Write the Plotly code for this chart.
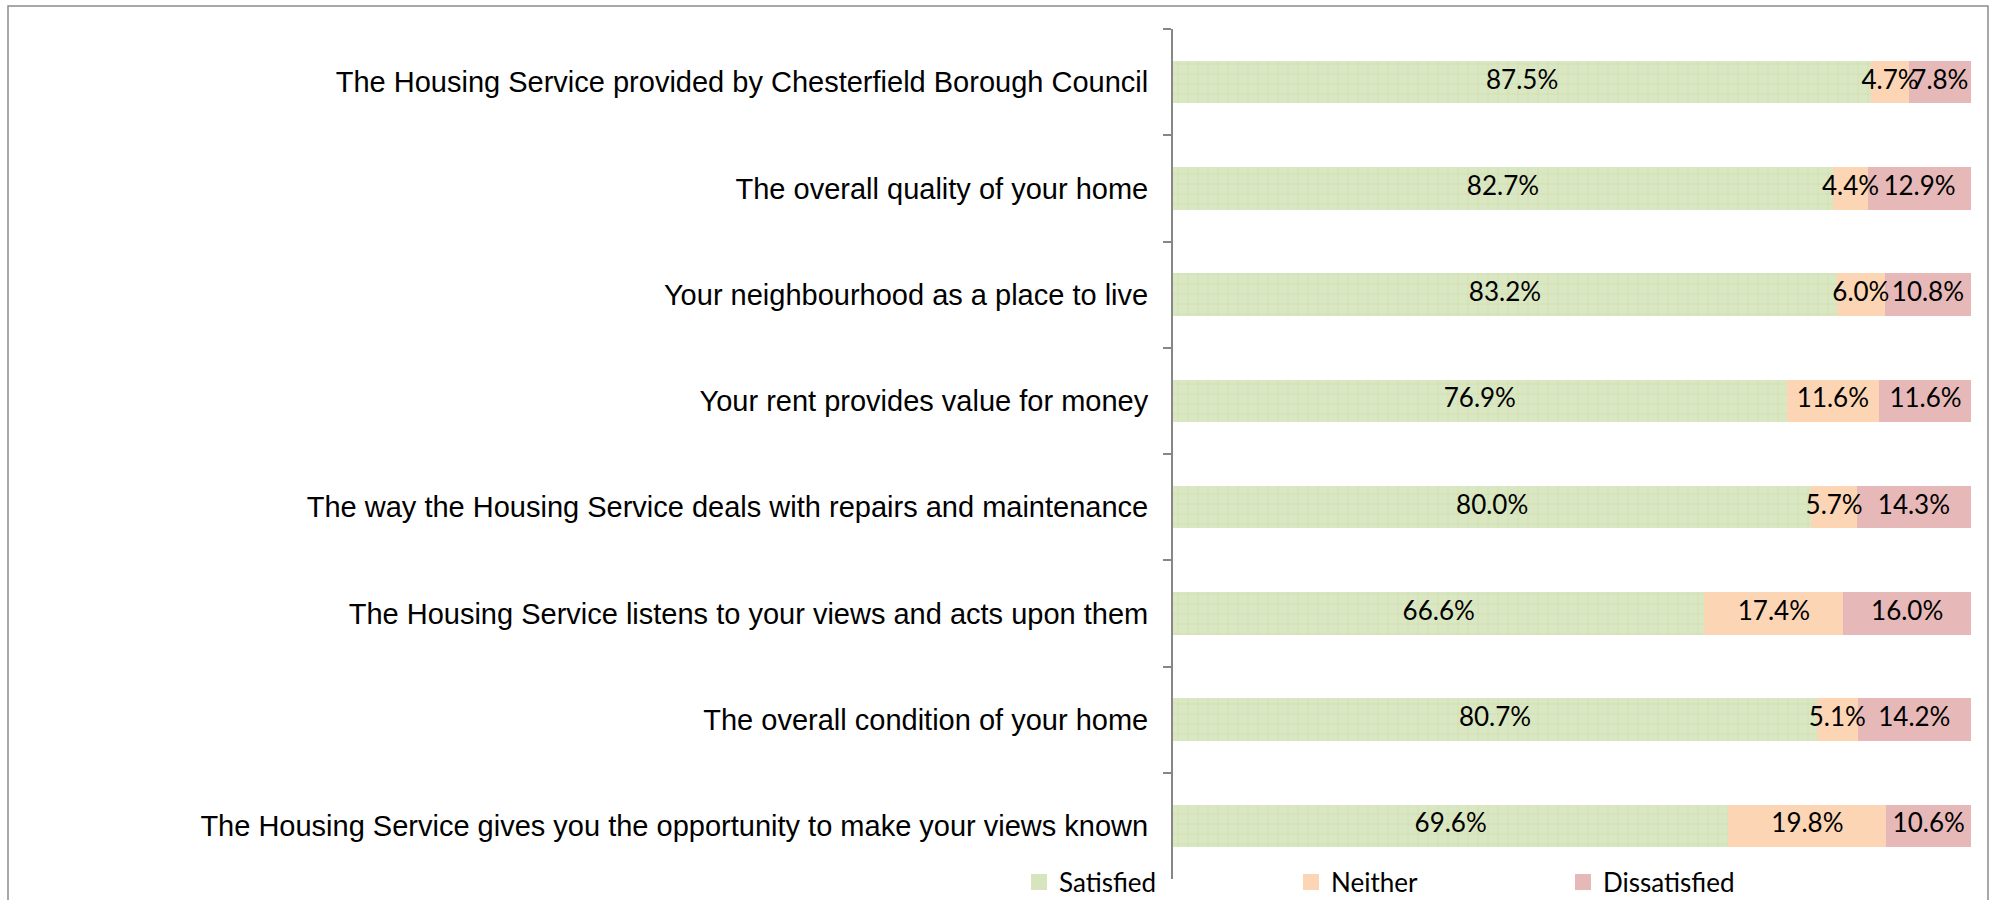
import plotly.graph_objects as go

categories = [
    "The Housing Service provided by Chesterfield Borough Council",
    "The overall quality of your home",
    "Your neighbourhood as a place to live",
    "Your rent provides value for money",
    "The way the Housing Service deals with repairs and maintenance",
    "The Housing Service listens to your views and acts upon them",
    "The overall condition of your home",
    "The Housing Service gives you the opportunity to make your views known",
]
satisfied = [87.5, 82.7, 83.2, 76.9, 80.0, 66.6, 80.7, 69.6]
neither = [4.7, 4.4, 6.0, 11.6, 5.7, 17.4, 5.1, 19.8]
dissatisfied = [7.8, 12.9, 10.8, 11.6, 14.3, 16.0, 14.2, 10.6]
series_names = ["Satisfied", "Neither", "Dissatisfied"]
series_colors = ["#d7e4bd", "#fcd5b5", "#e6b9b8"]

W, H = 1997, 900
L, R, T, B = 1173, 26, 29, 21

label_font = dict(family="Lato, 'Open Sans', sans-serif", size=26, color="black")

fig = go.Figure()
values = [satisfied, neither, dissatisfied]
for i, (name, vals, col) in enumerate(zip(series_names, values, series_colors)):
    marker = dict(color=col, line=dict(width=0))
    if i == 0:
        marker["pattern"] = dict(shape="+", fgcolor="#bfd396", bgcolor="#dae7c3", size=10, solidity=0.14)
    fig.add_trace(go.Bar(
        y=categories, x=vals, name=name, orientation="h", marker=marker,
        showlegend=False, legendgroup=name, hoverinfo="x+y+name",
    ))

# data labels drawn on top of all bars, centred in each stacked segment
for k, vals in enumerate(values):
    base = [sum(v[j] for v in values[:k]) for j in range(len(categories))]
    mids = [b + v / 2 for b, v in zip(base, vals)]
    fig.add_trace(go.Scatter(
        x=mids, y=categories, mode="text",
        text=[f"{v:.1f}%" for v in vals], textposition="middle center",
        textfont=label_font, showlegend=False, hoverinfo="skip", cliponaxis=False,
    ))

# legend entries (square swatches like the original)
for name, col in zip(series_names, series_colors):
    fig.add_trace(go.Scatter(
        x=[None], y=[None], mode="markers", name=name, legendgroup=name,
        marker=dict(symbol="square", size=17, color=col, line=dict(width=0)),
        showlegend=True,
    ))

pw = W - L - R
ph = H - T - B

fig.update_layout(
    width=W, height=H,
    margin=dict(l=L, r=R, t=T, b=B, pad=0, autoexpand=False),
    barmode="stack", bargap=0.6,
    paper_bgcolor="white", plot_bgcolor="white",
    showlegend=True,
    legend=dict(
        orientation="h", x=(1019 - L) / pw, xanchor="left",
        y=(T + ph - 882) / ph, yanchor="middle",
        entrywidth=227, entrywidthmode="pixels",
        font=dict(family="Lato, 'Open Sans', sans-serif", size=26, color="black"),
        bgcolor="rgba(0,0,0,0)", traceorder="normal",
        itemsizing="trace", itemwidth=30,
    ),
    xaxis=dict(range=[0, 100], visible=False, fixedrange=True),
    yaxis=dict(
        autorange="reversed", type="category",
        categoryorder="array", categoryarray=categories,
        showline=True, linecolor="#878787", linewidth=2,
        ticks="outside", tickson="boundaries", ticklen=8, tickcolor="#878787", tickwidth=2,
        tickfont=dict(family="'Liberation Sans', Arial, sans-serif", size=29, color="black"),
        ticklabelstandoff=17,
        showgrid=False, zeroline=False,
    ),
    shapes=[dict(
        type="rect", xref="paper", yref="paper",
        x0=(8 - L) / pw, x1=(1988 - L) / pw,
        y0=(T + ph - 910) / ph, y1=(T + ph - 6) / ph,
        line=dict(color="#8c8c8c", width=1.5), fillcolor="rgba(0,0,0,0)", layer="below",
    )],
)

fig.write_html(
    "out.html",
    config={"displayModeBar": False},
    post_script="document.body.style.margin='0';document.body.style.padding='0';document.body.style.overflow='hidden';",
)
